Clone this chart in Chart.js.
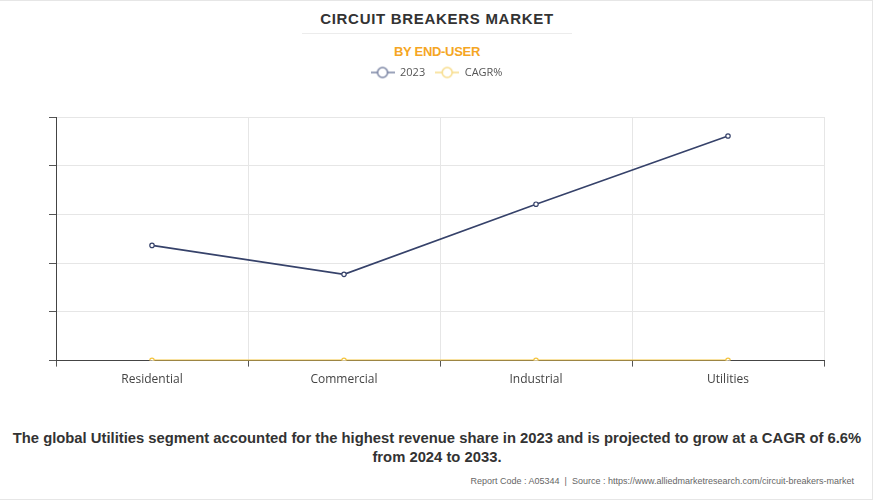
<!DOCTYPE html>
<html>
<head>
<meta charset="utf-8">
<script src="https://cdn.jsdelivr.net/npm/chart.js@4.4.0/dist/chart.umd.min.js"></script>
<style>
  html, body { margin: 0; padding: 0; background: #fff; }
  body { width: 874px; height: 502px; position: relative; overflow: hidden; font-family: "Liberation Sans", Arial, sans-serif; }
  #frame { position: absolute; left: 0; top: 0; width: 872px; height: 498px; border-top: 1px solid #e6e6e6; border-right: 1px solid #e6e6e6; border-bottom: 1px solid #e6e6e6; }
  #title { position: absolute; top: 10px; left: 0; width: 874px; text-align: center; font-weight: bold; font-size: 15px; letter-spacing: 0.7px; color: #333; }
  #divider { position: absolute; top: 33px; left: 302px; width: 270px; height: 1px; background: #ececec; }
  #subtitle { position: absolute; top: 44px; left: 0; width: 874px; text-align: center; font-weight: bold; font-size: 13px; color: #f5a623; letter-spacing: -0.3px; }
  #chartwrap { position: absolute; top: 57px; left: 0; width: 874px; height: 336px; }
  #note { position: absolute; top: 429px; left: 0; width: 874px; text-align: center; font-weight: bold; font-size: 14.8px; line-height: 19px; color: #333; }
  #source { position: absolute; top: 476px; right: 20px; font-size: 9px; color: #666; }
</style>
</head>
<body>
<div id="frame"></div>
<div id="title">CIRCUIT BREAKERS MARKET</div>
<div id="divider"></div>
<div id="subtitle">BY END-USER</div>
<div id="chartwrap"><canvas id="c" width="874" height="336"></canvas></div>
<div id="note">The global Utilities segment accounted for the highest revenue share in 2023 and is projected to grow at a CAGR of 6.6%<br>from 2024 to 2033.</div>
<div id="source">Report Code : A05344 &nbsp;|&nbsp; Source : https://www.alliedmarketresearch.com/circuit-breakers-market</div>
<script>
const categories = ["Residential", "Commercial", "Industrial", "Utilities"];
const values2023 = [2365, 1770, 3210, 4610];
const valuesCAGR = [5.8, 5.4, 6.2, 6.6];
const yTicks = [0, 1000, 2000, 3000, 4000, 5000];

function legendIcon(color) {
  const cv = document.createElement('canvas');
  cv.width = 24; cv.height = 14;
  const ctx = cv.getContext('2d');
  ctx.strokeStyle = color; ctx.lineWidth = 1.5;
  ctx.beginPath(); ctx.moveTo(0, 7); ctx.lineTo(24, 7); ctx.stroke();
  ctx.fillStyle = '#fff';
  ctx.beginPath(); ctx.arc(12, 7, 5, 0, Math.PI * 2); ctx.fill(); ctx.stroke();
  return cv;
}
const icon2023 = legendIcon('#7a84a3');
const iconCAGR = legendIcon('#f7dc8a');

const legendMargin = {
  id: 'legendMargin',
  beforeInit(chart) {
    const fit = chart.legend.fit;
    chart.legend.fit = function () { fit.bind(chart.legend)(); this.height += 29; };
  }
};

new Chart(document.getElementById('c'), {
  type: 'line',
  plugins: [legendMargin],
  data: {
    labels: categories,
    datasets: [
      { label: '2023', data: values2023, borderColor: '#36426a', backgroundColor: '#fff', borderWidth: 1.6,
        pointRadius: 2.2, pointBorderWidth: 1.2, pointBackgroundColor: '#fff', pointBorderColor: '#36426a', tension: 0, pointStyle: 'circle' },
      { label: 'CAGR%', data: valuesCAGR, borderColor: '#f4c542', backgroundColor: '#fff', borderWidth: 1.6,
        pointRadius: 2.2, pointBorderWidth: 1.2, pointBackgroundColor: '#fff', pointBorderColor: '#f4c542', tension: 0 }
    ]
  },
  options: {
    responsive: false,
    animation: false,
    layout: { padding: { left: 49, right: 50, top: 0, bottom: 0 } },
    plugins: {
      legend: {
        position: 'top',
        labels: {
          usePointStyle: true,
          pointStyleWidth: 24,
          font: { family: 'Open Sans', size: 11 },
          color: '#555',
          padding: 10,
          generateLabels: (chart) => chart.data.datasets.map((ds, i) => ({
            text: ds.label, datasetIndex: i, pointStyle: i === 0 ? icon2023 : iconCAGR,
            fontColor: '#555', hidden: false, lineWidth: 0, strokeStyle: 'transparent', fillStyle: 'transparent'
          }))
        }
      },
      tooltip: { enabled: false }
    },
    scales: {
      x: {
        offset: true,
        grid: { offset: true, color: '#e6e6e6', tickColor: '#555', tickLength: 6, drawTicks: true },
        border: { color: '#444', width: 1 },
        ticks: { font: { family: 'Open Sans', size: 12 }, color: '#444', padding: 6 }
      },
      y: {
        min: 0, max: 5000,
        afterBuildTicks: (axis) => { axis.ticks = yTicks.map(v => ({ value: v })); },
        grid: { color: '#e6e6e6', tickColor: '#555', tickLength: 7 },
        border: { color: '#444', width: 1 },
        ticks: { display: false }
      }
    }
  }
});
</script>
</body>
</html>
